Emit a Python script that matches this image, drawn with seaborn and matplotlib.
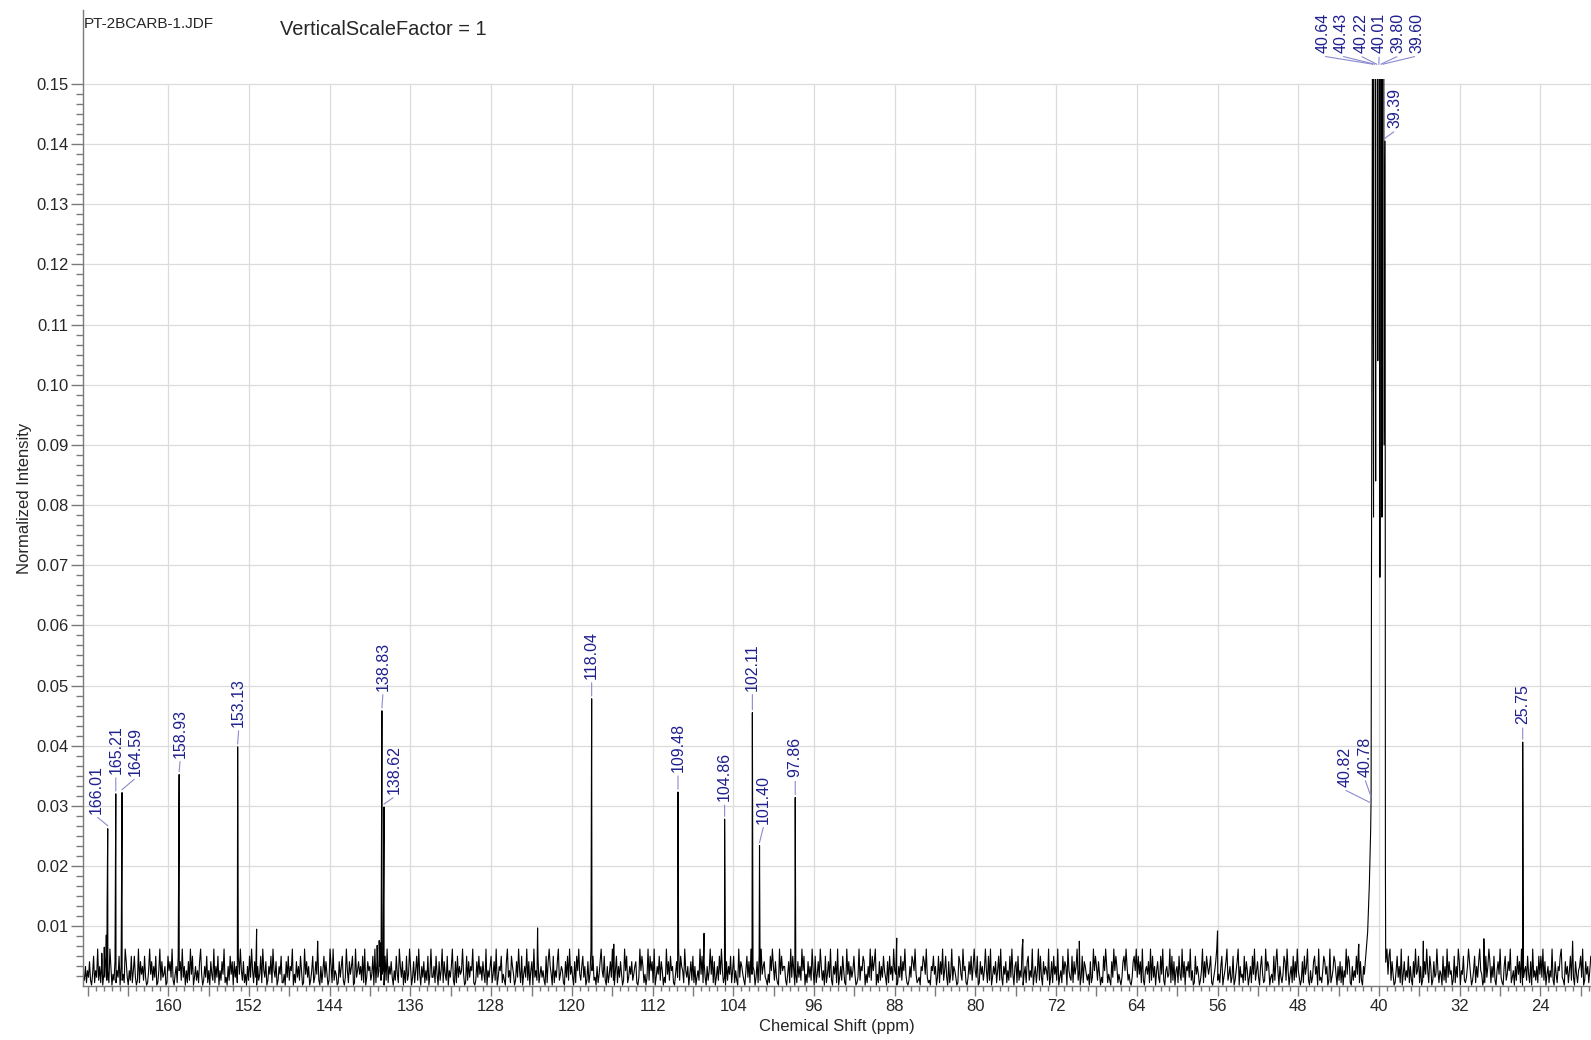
import numpy as np
import pandas as pd
import seaborn as sns
import matplotlib
matplotlib.use("Agg")
import matplotlib.pyplot as plt
from matplotlib.patches import Rectangle
from matplotlib.ticker import FixedLocator, MultipleLocator, FuncFormatter, NullFormatter

# ------------------------------------------------------------------ data
peak_ppm = [166.01, 165.21, 164.59, 158.93, 153.13, 138.83, 138.62, 118.04,
            109.48, 104.86, 102.11, 101.40, 97.86, 25.75]
peak_height = [0.0262, 0.0320, 0.0322, 0.0352, 0.0398, 0.0458, 0.0298, 0.0478,
               0.0323, 0.0278, 0.0455, 0.0234, 0.0314, 0.0406]

# DMSO-d6 solvent multiplet (with its rising shoulder and valleys)
solvent_ppm = [41.45, 41.12, 40.95, 40.82, 40.78, 40.64, 40.535, 40.43, 40.325,
               40.22, 40.115, 40.01, 39.905, 39.80, 39.70, 39.60, 39.495, 39.39,
               39.36, 39.33]
solvent_height = [0.002, 0.009, 0.017, 0.026, 0.031, 0.16, 0.078, 0.42, 0.084,
                  0.84, 0.104, 0.98, 0.068, 0.84, 0.078, 0.42, 0.090, 0.1405,
                  0.020, 0.004]

# small features in the baseline (spikes, shoulders)
extra_ppm = [166.60, 166.35, 166.15, 166.07, 151.25, 145.2, 139.30, 139.10,
             138.95, 123.4, 115.85, 106.9, 87.8, 75.3, 69.7, 56.0, 42.0, 35.6,
             29.6, 20.8]
extra_height = [0.0055, 0.0065, 0.0085, 0.0135, 0.0095, 0.0075, 0.0068, 0.0076,
                0.0072, 0.0097, 0.0070, 0.0088, 0.0080, 0.0078, 0.0075, 0.0092,
                0.0070, 0.0075, 0.0079, 0.0075]

# baseline noise read as levels 0..9 (left to right across the spectrum)
noise_levels = (
    "4261537204815392617043825196042715380624197305281"
    "5830291746283015947263801592734601857392046185729"
    "3605172948036251794026381507429163805274913062847"
    "0736184952714062839517306248195370264819537026481"
    "1407382659041736285019473602581374920615837402961"
    "9254017368203951746801935746281903756248091735624"
    "5082916473052841963705182496037158294063715280493"
    "361840725917428053692071836459401827365910273846"
    "2741905368147290365814207935186402739518046392705"
    "70935281463520817964081537924651073829463071859426"
    "8360271495823061479538206147392058163740295813647"
    "24671039586140392857190364827503194728561047392865"
    "1953604728160352948173062594817036284951307264815"
    "81520937642058371946503718294673204185962731094856"
    "6204719385041736295804173629508147396250814739206"
    "47190362851094726358401392658704163928579041726385"
    "3071846295401638275941026387594123065874931206584"
    "60381749258307149265301874295610374826953801746259"
    "5182903647158293064715283940671825390461782539046"
    "15928307465290371846290351847609532817469250381764"
    "2407139586274031859614207395861420378596241037859"
    "38471920564719283605731849205634918270561842937065"
    "7392501846402591738646810357924168035792461380257"
    "90634182750361849257306841295760341827950631487295"
    "0461827395302718469205137846092315874602913587406"
    "27160539487106253849172063548927106349587216035948"
    "9274015836190472538162073945816023749518602734951"
    "54082619374502816397054821369740258163795402183697"
    "1638205749310682475913506284719035628417093526184"
    "83927046153920741658932074615829307415683902746158"
)
# intensity corresponding to each noise level
noise_lookup = [0.0002, 0.0006, 0.0010, 0.0015, 0.0020, 0.0026, 0.0033, 0.0041,
                0.0050, 0.0062]

label_ppm = peak_ppm + [40.82, 40.78, 40.64, 40.43, 40.22, 40.01, 39.80, 39.60, 39.39]
label_anchor = peak_height + [0.030, 0.031, 0.1528, 0.1528, 0.1528, 0.1528, 0.1528,
                              0.1528, 0.1405]

x_tick_values = [160, 152, 144, 136, 128, 120, 112, 104, 96, 88, 80, 72, 64, 56,
                 48, 40, 32, 24]
y_tick_values = [0.01, 0.02, 0.03, 0.04, 0.05, 0.06, 0.07, 0.08, 0.09, 0.10,
                 0.11, 0.12, 0.13, 0.14, 0.15]

# ------------------------------------------------------------------ layout
label_dx = [-11, 0, 13, 1, 1, 1, 10, 0, 0, 0, 0, 4, 0, 0,
            -26, -6, -49.4, -33, -15.9, 0.3, 17.1, 33.5, 9.6]
label_dy = [15, 20, 17, 17, 20, 20, 13, 20, 20, 18, 22, 22, 20, 18,
            19, 23, 14, 14, 14, 14, 14, 14, 13]

X_LEFT, X_RIGHT = 168.46, 18.98
Y_TOP = 0.1623
CLIP_TOP = 0.1508

# ------------------------------------------------------------------ build spectrum table
noise_vals = np.array([noise_lookup[int(c)] for c in noise_levels])
noise_ppm = np.linspace(168.42, 19.0, len(noise_vals))
keep = ~((noise_ppm > 39.30) & (noise_ppm < 41.50))
df = pd.concat([
    pd.DataFrame({"ppm": noise_ppm[keep], "intensity": noise_vals[keep]}),
    pd.DataFrame({"ppm": peak_ppm, "intensity": peak_height}),
    pd.DataFrame({"ppm": extra_ppm, "intensity": extra_height}),
    pd.DataFrame({"ppm": solvent_ppm, "intensity": solvent_height}),
]).sort_values("ppm", ascending=False).reset_index(drop=True)

# ------------------------------------------------------------------ style
sns.set_style("white")
plt.rcParams["font.family"] = ["Liberation Sans", "DejaVu Sans"]

fig = plt.figure(figsize=(15.91, 10.40), dpi=100)
ax = fig.add_axes([83 / 1591, (1040 - 986.3) / 1040, (1591 - 83) / 1591,
                   (986.3 - 10) / 1040])

grid_c = "#dcdcdc"
ax.vlines(x_tick_values, 0, 0.15, colors=grid_c, lw=0.9, zorder=0)
ax.hlines(y_tick_values, X_LEFT, X_RIGHT, colors=grid_c, lw=0.9, zorder=0)

sns.lineplot(data=df, x="ppm", y="intensity", sort=False, estimator=None,
             color="black", linewidth=0.8, ax=ax, zorder=2)
line = ax.lines[-1]
line.set_clip_path(Rectangle((10, -0.01), 170, CLIP_TOP + 0.01,
                             transform=ax.transData))

ax.set_xlim(X_LEFT, X_RIGHT)
ax.set_ylim(0, Y_TOP)

spine_c = "#7a7a7a"
for s in ["top", "right"]:
    ax.spines[s].set_visible(False)
for s in ["left", "bottom"]:
    ax.spines[s].set_color(spine_c)
    ax.spines[s].set_linewidth(1.0)

# x ticks
ax.xaxis.set_major_locator(MultipleLocator(4))
ax.xaxis.set_major_formatter(FuncFormatter(
    lambda v, p: f"{int(round(v))}" if int(round(v)) in x_tick_values else ""))
ax.xaxis.set_minor_locator(MultipleLocator(0.8))
ax.xaxis.set_minor_formatter(NullFormatter())
# y ticks
ax.yaxis.set_major_locator(FixedLocator(y_tick_values))
ax.yaxis.set_major_formatter(FuncFormatter(lambda v, p: f"{v:.2f}"))
ax.yaxis.set_minor_locator(FixedLocator(np.arange(1, 91) * (0.01 / 6)))
ax.yaxis.set_minor_formatter(NullFormatter())

ax.tick_params(axis="x", which="major", direction="out", length=7.2, width=1,
               color=spine_c, labelsize=12, pad=2, bottom=True)
ax.tick_params(axis="x", which="minor", direction="out", length=3.6, width=1,
               color=spine_c, bottom=True)
ax.tick_params(axis="y", which="major", direction="out", length=8.6, width=1,
               color=spine_c, labelsize=12, pad=2, left=True)
ax.tick_params(axis="y", which="minor", direction="out", length=5, width=1,
               color=spine_c, left=True)

ax.set_xlabel("Chemical Shift (ppm)", fontsize=12)
ax.xaxis.set_label_coords(0.5, -0.0335)
ax.set_ylabel("Normalized Intensity", fontsize=12)
ax.yaxis.set_label_coords(-0.034, 0.5)

# peak labels
label_c = "#1f1f8f"
leader_c = "#8a8ad0"
for p, h, dx, dy in zip(label_ppm, label_anchor, label_dx, label_dy):
    ax.annotate(f"{p:.2f}", xy=(p, h), xycoords="data", xytext=(dx, dy),
                textcoords="offset pixels", rotation=90, ha="center",
                va="bottom", fontsize=11.5, color=label_c, annotation_clip=False,
                arrowprops=dict(arrowstyle="-", color=leader_c, lw=0.8,
                                shrinkA=0.5, shrinkB=2, relpos=(0.5, 0),
                                connectionstyle="arc,angleA=-90,angleB=90,armA=3,armB=3,rad=0"))

fig.text(84 / 1591, 1 - 28.3 / 1040, "PT-2BCARB-1.JDF", fontsize=11,
         ha="left", va="baseline")
fig.text(280 / 1591, 1 - 35 / 1040, "VerticalScaleFactor = 1", fontsize=14.4,
         ha="left", va="baseline")

fig.savefig("out.png", dpi=100)
